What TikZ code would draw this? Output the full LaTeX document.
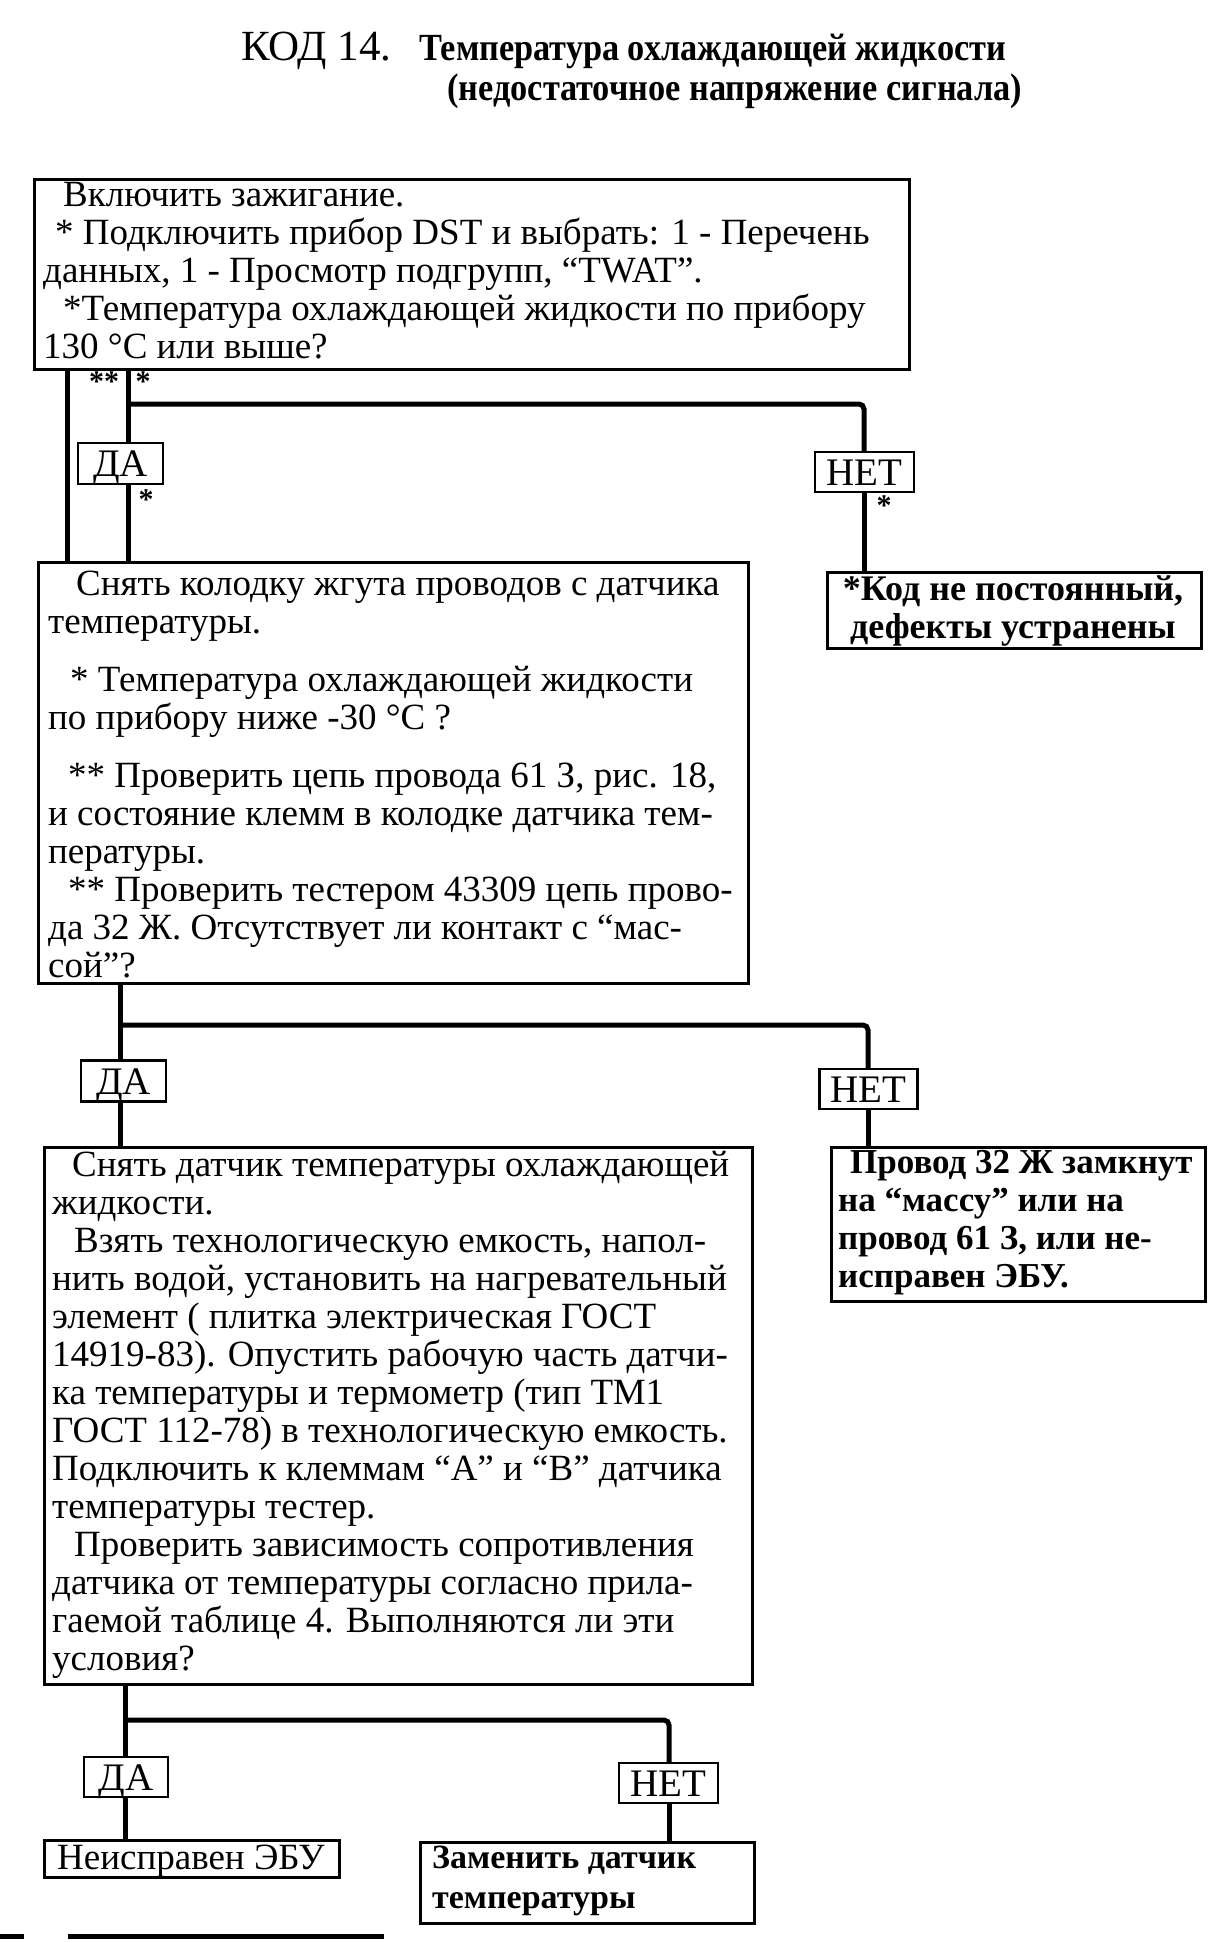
\documentclass[tikz,border=0pt]{standalone}
\usepackage{fontspec}
\setmainfont{Liberation Serif}
\usepackage{graphicx}
\begin{document}
\begin{tikzpicture}[x=1pt,y=-1pt,
  box/.style={draw, line width=2.5pt, inner sep=0pt, anchor=north west},
  yn/.style={draw, line width=2.5pt, fill=white, inner sep=0pt, text height=26pt, text depth=0pt, font=\fontsize{39}{39}\selectfont},
  conn/.style={line width=5pt},
  body/.style={anchor=north west, align=left, inner sep=0pt, font=\fontsize{37}{38}\selectfont},
  bbody/.style={anchor=north west, align=left, inner sep=0pt, font=\fontsize{35}{38}\selectfont\bfseries},
  star/.style={inner sep=0pt, font=\fontsize{30}{30}\selectfont\bfseries}]
\useasboundingbox (0,0) rectangle (1225,1943);
\fill[white] (0,0) rectangle (1225,1943);
% title
\node[anchor=base west, inner sep=0pt, font=\fontsize{43}{43}\selectfont] (t1) at (241,60) {КОД 14.};
\node[anchor=base west, inner sep=0pt, font=\fontsize{36}{36}\selectfont\bfseries] (t2) at (419,60) {\scalebox{1}[1.12]{\resizebox{587pt}{!}{Температура охлаждающей жидкости}}};
\node[anchor=base west, inner sep=0pt, font=\fontsize{36}{36}\selectfont\bfseries] (t3) at (447,101) {\scalebox{1}[1.12]{\resizebox{575pt}{!}{(недостаточное напряжение сигнала)}}};
% boxes
\node[box, minimum width=875pt, minimum height=190pt] (b1) at (33,178) {};
\node[body] (b1t) at (43,182) {\hspace*{20pt}Включить зажигание.\\
\hspace*{12pt}* Подключить прибор DST и выбрать: 1 - Перечень\\
данных, 1 - Просмотр подгрупп, “TWAT”.\\
\hspace*{20pt}*Температура охлаждающей жидкости по прибору\\
130 °C или выше?};
\node[box, minimum width=710pt, minimum height=421pt] (b2) at (37,561) {};
\node[body] (b2t) at (48,571) {\hspace*{28pt}Снять колодку жгута проводов с датчика\\
температуры.\\[20pt]
\hspace*{22pt}* Температура охлаждающей жидкости\\
по прибору ниже -30 °C ?\\[20pt]
\hspace*{20pt}** Проверить цепь провода 61 З, рис. 18,\\
и состояние клемм в колодке датчика тем-\\
пературы.\\
\hspace*{20pt}** Проверить тестером 43309 цепь прово-\\
да 32 Ж. Отсутствует ли контакт с “мас-\\
сой”?};
\node[box, minimum width=708pt, minimum height=537pt] (b3) at (43,1146) {};
\node[body] (b3t) at (52,1151) {\hspace*{20pt}Снять датчик температуры охлаждающей\\
жидкости.\\
\hspace*{22pt}Взять технологическую емкость, напол-\\
нить водой, установить на нагревательный\\
элемент ( плитка электрическая ГОСТ\\
14919-83). Опустить рабочую часть датчи-\\
ка температуры и термометр (тип ТМ1\\
ГОСТ 112-78) в технологическую емкость.\\
Подключить к клеммам “А” и “В” датчика\\
температуры тестер.\\
\hspace*{22pt}Проверить зависимость сопротивления\\
датчика от температуры согласно прила-\\
гаемой таблице 4. Выполняются ли эти\\
условия?};
\node[box, minimum width=374pt, minimum height=76pt] (bk) at (826,571) {};
\node[bbody, align=center, anchor=north, font=\fontsize{36}{38}\selectfont\bfseries] (bkt) at (1013,576) {*Код не постоянный,\\ дефекты устранены};
\node[box, minimum width=374pt, minimum height=154pt] (bw) at (830,1146) {};
\node[bbody] (bwt) at (838,1150) {\hspace*{12pt}Провод 32 Ж замкнут\\ на “массу” или на\\ провод 61 З, или не-\\ исправен ЭБУ.};
\node[box, minimum width=295pt, minimum height=37pt] (be) at (43,1839) {};
\node[body, anchor=west] (bet) at (57,1861) {Неисправен ЭБУ};
\node[box, minimum width=334pt, minimum height=81pt] (bz) at (419,1841) {};
\node[bbody, font=\fontsize{34}{40}\selectfont\bfseries] (bzt) at (432,1846) {Заменить датчик\\ температуры};
% yes/no labels
\node[yn, minimum width=85pt, minimum height=41pt] (da1) at (120.5,463.5) {ДА};
\node[yn, minimum width=99pt, minimum height=40pt] (net1) at (864.5,472) {НЕТ};
\node[yn, minimum width=85pt, minimum height=41pt] (da2) at (123.5,1081) {ДА};
\node[yn, minimum width=98pt, minimum height=40pt] (net2) at (868.5,1089) {НЕТ};
\node[yn, minimum width=84pt, minimum height=40pt] (da3) at (126,1777) {ДА};
\node[yn, minimum width=99pt, minimum height=40pt] (net3) at (668.5,1783) {НЕТ};
% junction coordinates
\coordinate (xA) at (67,0);
\coordinate (xB) at (128,0);
\coordinate (xC) at (120,0);
\coordinate (xD) at (125,0);
\coordinate (j1) at (128,404);
\coordinate (j1r) at (864,404);
\coordinate (j2) at (120,1025);
\coordinate (j2r) at (868,1025);
\coordinate (j3) at (125,1720);
\coordinate (j3r) at (669,1720);
% connectors
\draw[conn] (xA |- b1.south) -- (xA |- b2.north);
\draw[conn] (xB |- b1.south) -- (xB |- da1.north);
\draw[conn] (xB |- da1.south) -- (xB |- b2.north);
\draw[conn, rounded corners=5pt] (j1) -- (j1r) -- (j1r |- net1.north);
\draw[conn] (j1r |- net1.south) -- (j1r |- bk.north);
\draw[conn] (xC |- b2.south) -- (xC |- da2.north);
\draw[conn, rounded corners=5pt] (j2) -- (j2r) -- (j2r |- net2.north);
\draw[conn] (xC |- da2.south) -- (xC |- b3.north);
\draw[conn] (j2r |- net2.south) -- (j2r |- bw.north);
\draw[conn] (xD |- b3.south) -- (xD |- da3.north);
\draw[conn, rounded corners=5pt] (j3) -- (j3r) -- (j3r |- net3.north);
\draw[conn] (xD |- da3.south) -- (xD |- be.north);
\draw[conn] (j3r |- net3.south) -- (j3r |- bz.north);
% star marks
\node[star, anchor=north] (s1) at (104,372) {**};
\node[star, anchor=north] (s2) at (143,372) {*};
\node[star, anchor=north] (s3) at (146,490) {*};
\node[star, anchor=north] (s4) at (884,496) {*};
% scan edge at bottom
\fill[black] (0,1934) rectangle (24,1939);
\fill[black] (68,1934) rectangle (384,1939);
\end{tikzpicture}
\end{document}
